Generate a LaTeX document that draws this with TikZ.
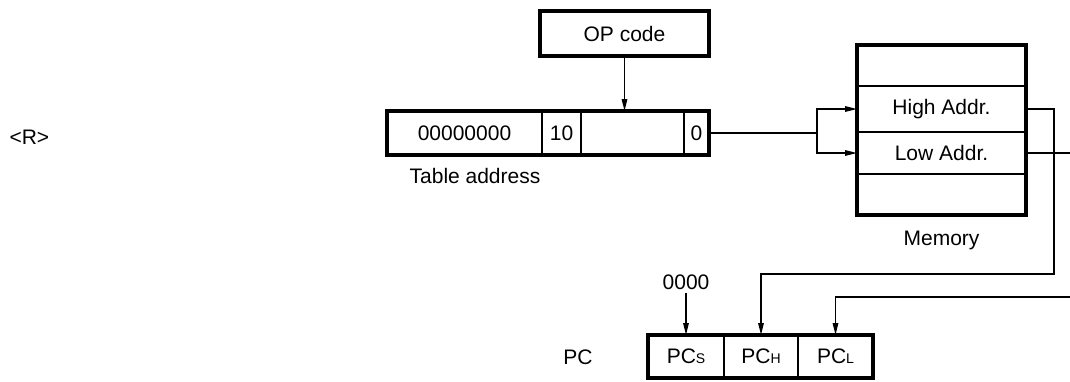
\documentclass[tikz,border=0pt]{standalone}
\usepackage{fontspec}
\setmainfont{Liberation Sans}
\usetikzlibrary{positioning}
\usetikzlibrary{arrows.meta}

\newcommand{\regsub}[1]{{\fontsize{14}{16}\selectfont #1}}

\begin{document}
\begin{tikzpicture}[x=1pt, y=-1pt,
  font=\fontsize{21}{25}\selectfont,
  cell/.style={draw, line width=1.3pt, inner sep=0pt, outer sep=0pt},
  tcell/.style={cell, minimum height=44pt},
  mcell/.style={cell, minimum width=169pt},
  pccell/.style={cell, minimum height=43pt},
  frame/.style={line width=3.4pt},
  conn/.style={line width=1.4pt},
  arr/.style={conn, -{Triangle[length=12pt, width=5.5pt]}}]
\useasboundingbox (0,0) rectangle (1070,381);

\def\hix{1054}
\def\pcy{274}
\def\loy{297}

% opcode
\node[cell, minimum width=169pt, minimum height=45pt] (op) at (624.5,33.5) {OP code};
\draw[frame] (op.north west) rectangle (op.south east);

% table address
\node[tcell, anchor=west, minimum width=155pt] (tz) at (387,133) {00000000};
\node[tcell, minimum width=39pt, right=0pt of tz] (tb) {10};
\node[tcell, minimum width=103pt, right=0pt of tb] (tx) {};
\node[tcell, minimum width=25pt, right=0pt of tx] (t0) {0};
\draw[frame] (tz.north west) rectangle (t0.south east);
\node (tlabel) at (475,176) {Table address};

% memory
\node[mcell, minimum height=41pt, anchor=north] (m1) at (941.5,45) {};
\node[mcell, minimum height=46pt, below=0pt of m1] (mhi) {High Addr.};
\node[mcell, minimum height=42pt, below=0pt of mhi] (mlo) {Low Addr.};
\node[mcell, minimum height=41pt, below=0pt of mlo] (m4) {};
\draw[frame] (m1.north west) rectangle (m4.south east);
\node (mlabel) at (941.5,240) {Memory};

% PC
\node (pclabel) at (578,357) {PC};
\node[pccell, anchor=west, minimum width=76pt] (pcs) at (648,356.5) {PC\regsub{S}};
\node[pccell, minimum width=74pt, right=0pt of pcs] (pch) {PC\regsub{H}};
\node[pccell, minimum width=75pt, right=0pt of pch] (pcl) {PC\regsub{L}};
\draw[frame] (pcs.north west) rectangle (pcl.south east);
\node (zero) at (686,282) {0000};

\coordinate (br) at (817,133);
\coordinate (loout) at (1070,153);
\coordinate (loin) at (1070,\loy);

\draw[arr] (op.south) -- (op.south |- tx.north);
\draw[conn] (t0.east) -- (br);
\draw[arr] (br) |- (mhi.west);
\draw[arr] (br) |- (mlo.west);
\draw[arr] (mhi.east) -| (\hix,\pcy) -| (pch.north);
\draw[conn] (mlo.east) -- (loout);
\draw[arr] (loin) -| (pcl.north);
\draw[arr] (zero.south) -- (pcs.north);

\node[anchor=west] (rmark) at (6,137) {<R>};
\end{tikzpicture}
\end{document}
